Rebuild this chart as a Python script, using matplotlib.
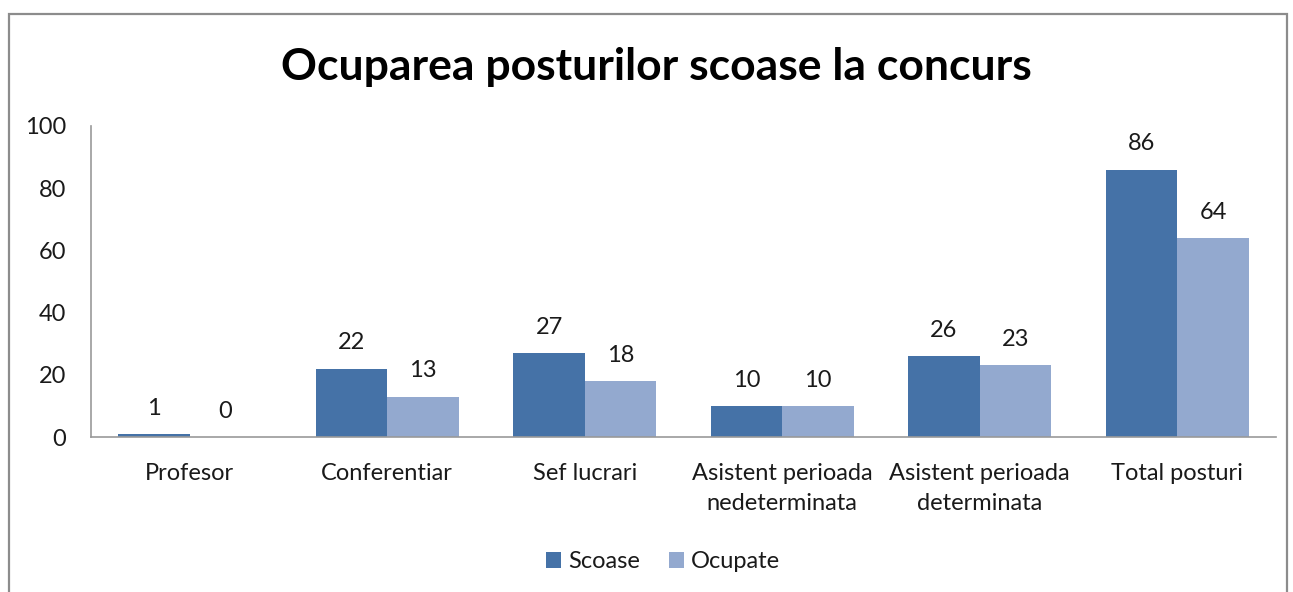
import matplotlib
matplotlib.use("Agg")
import matplotlib.pyplot as plt
from matplotlib.patches import Rectangle

categories = ["Profesor", "Conferentiar", "Sef lucrari",
              "Asistent perioada\nnedeterminata", "Asistent perioada\ndeterminata",
              "Total posturi"]
scoase = [1, 22, 27, 10, 26, 86]
ocupate = [0, 13, 18, 10, 23, 64]
series_names = ["Scoase", "Ocupate"]
yticks = [0, 20, 40, 60, 80, 100]

plt.rcParams['font.family'] = ['Lato', 'DejaVu Sans']
c1 = "#4572A7"
c2 = "#93A9CF"
txt = "#1a1a1a"
fs = 17

fig = plt.figure(figsize=(12.93, 5.92), dpi=100)
fig.patches.append(Rectangle((9/1293, -0.1), (1287-9)/1293, 1.1 - 14/592,
                             transform=fig.transFigure, fill=False,
                             edgecolor="#8c8c8c", linewidth=1.6))
ax = fig.add_axes([91/1293, 1-437/592, (1276-91)/1293, (437-126)/592])

x = list(range(len(categories)))
w = 0.362
b1 = ax.bar([i - w/2 for i in x], scoase, w, color=c1, label=series_names[0])
b2 = ax.bar([i + w/2 for i in x], ocupate, w, color=c2, label=series_names[1])
for bars in (b1, b2):
    ax.bar_label(bars, padding=11, fontsize=fs, color=txt)

ax.set_xlim(-0.5, len(categories) - 0.5)
ax.set_ylim(0, 100)
ax.set_yticks(yticks)
ax.set_xticks(x)
ax.set_xticklabels(categories, fontsize=fs, color=txt, linespacing=1.5)
ax.tick_params(axis='y', length=0, pad=18, labelsize=fs, labelcolor=txt)
ax.tick_params(axis='x', length=0, pad=19)
for s in ("top", "right"):
    ax.spines[s].set_visible(False)
for s in ("left", "bottom"):
    ax.spines[s].set_color("#999999")
    ax.spines[s].set_linewidth(1.2)

fig.text(0.508, 1-67/592, "Ocuparea posturilor scoase la concurs", ha="center",
         va="center", fontsize=32, fontweight="bold", color="#000000")

fig.legend(handles=[b1, b2], labels=series_names, loc="center",
           bbox_to_anchor=(663/1293, 1-562/592), ncol=2, frameon=False,
           fontsize=fs, handlelength=0.65, handleheight=0.65, handletextpad=0.3,
           columnspacing=1.2, labelcolor=txt)

fig.savefig("out.png", dpi=100)
